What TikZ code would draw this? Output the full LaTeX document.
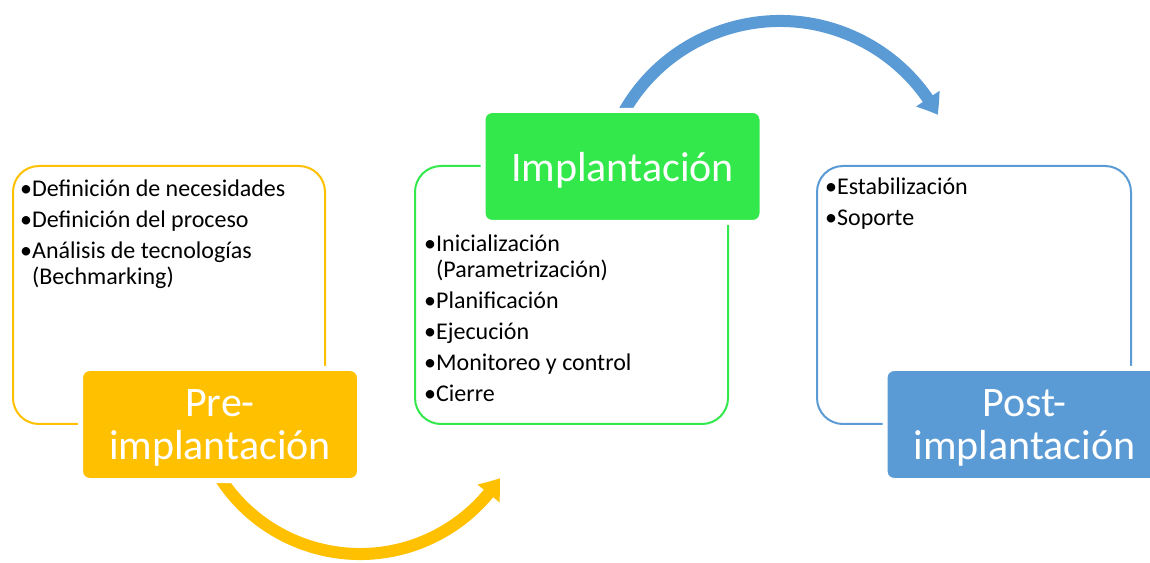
\documentclass[tikz,border=0pt]{standalone}
\usepackage{fontspec}
\setmainfont{Carlito}
\usetikzlibrary{arrows.meta,bending,calc}
\definecolor{cy}{HTML}{FFC000}
\definecolor{cg}{HTML}{33E84B}
\definecolor{cb}{HTML}{5B9BD5}
\begin{document}
\begin{tikzpicture}[x=1pt,y=1pt,
  listbox/.style={draw=#1, line width=2pt, rounded corners=26pt, inner sep=0pt, anchor=south west},
  titlebox/.style={fill=#1, draw=white, line width=5pt, rounded corners=9pt,
     minimum width=279pt, minimum height=112pt, text=white,
     font=\fontsize{42}{43}\selectfont, align=center, inner sep=0pt},
  itemtext/.style={anchor=base west, align=left, font=\fontsize{24}{26}\selectfont, inner sep=0pt},
  flow/.style={line width=12pt, draw=#1, -{Triangle[width=27pt,length=19pt,bend]}}
]
\useasboundingbox (0,0) rectangle (1150,562);
\clip (0,0) rectangle (1150,562);
\fill[white] (0,0) rectangle (1150,562);

% arc centres and arrow end points
\coordinate (yc) at (360,174.6);
\coordinate (bc) at (780,361.5);
\coordinate (preArcStart) at ($(yc)+(210:166.6)$);
\coordinate (impArcStart) at ($(bc)+(155:179.5)$);

\draw[flow=cy] (preArcStart) arc[start angle=210, end angle=327, radius=166.6];
\draw[flow=cb] (impArcStart) arc[start angle=155, end angle=28.5, radius=179.5];

% outline boxes
\node[listbox=cy, minimum width=312pt, minimum height=258pt] (preBox) at (12,137) {};
\node[listbox=cg, minimum width=313pt, minimum height=258pt] (impBox) at (414,137) {};
\node[listbox=cb, minimum width=314pt, minimum height=258pt] (postBox) at (816,137) {};

% lists (base anchor = baseline of last line)
\node[itemtext] (preList) at (20,277) {•Definición de necesidades\\[5pt]•Definición del proceso\\[5pt]•Análisis de tecnologías\\\phantom{•}(Bechmarking)};
\node[itemtext] (impList) at (424,160) {•Inicialización\\\phantom{•}(Parametrización)\\[5pt]•Planificación\\[5pt]•Ejecución\\[5pt]•Monitoreo y control\\[5pt]•Cierre};
\node[itemtext] (postList) at (825,336) {•Estabilización\\[5pt]•Soporte};

% title boxes
\node[titlebox=cy] (preTitle) at (220,137.5) {\rule{0pt}{33pt}Pre-\\implantación};
\node[titlebox=cg] (impTitle) at (622.5,395.5) {\rule{0pt}{37pt}Implantación};
\node[titlebox=cb] (postTitle) at (1024.5,137.5) {\rule{0pt}{33pt}Post-\\implantación};
\end{tikzpicture}
\end{document}
